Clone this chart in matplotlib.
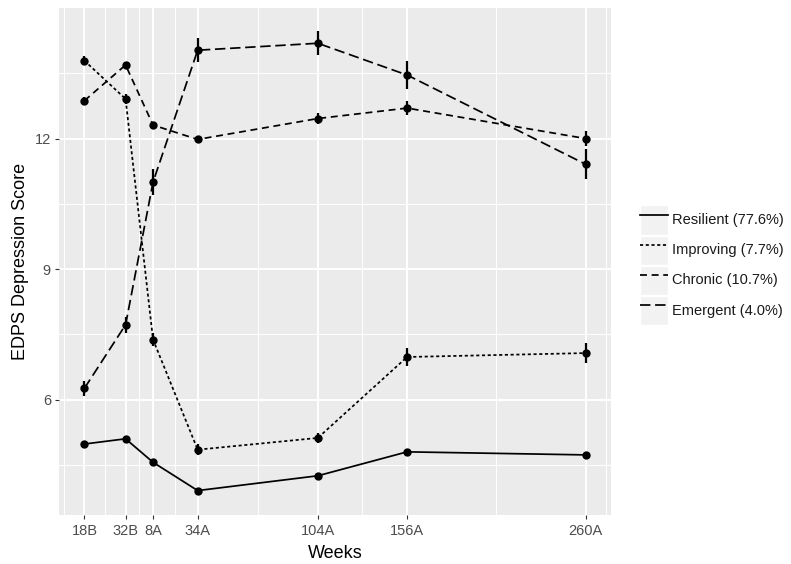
import numpy as np
import matplotlib
matplotlib.use("Agg")
import matplotlib.pyplot as plt
from matplotlib.patches import Patch
from matplotlib.lines import Line2D
from matplotlib.legend_handler import HandlerTuple

plt.rcParams['font.family'] = ['Liberation Sans', 'DejaVu Sans']

# week positions on the x axis and their labels
weeks = [8, 32, 48, 74, 144, 196, 300]
week_labels = ['18B', '32B', '8A', '34A', '104A', '156A', '260A']

# mean EPDS score per class
resilient = [4.98, 5.10, 4.56, 3.91, 4.25, 4.80, 4.73]
improving = [13.79, 12.91, 7.38, 4.85, 5.12, 6.98, 7.07]
chronic = [12.87, 13.69, 12.31, 11.98, 12.46, 12.70, 12.00]
emergent = [6.26, 7.72, 11.00, 14.03, 14.19, 13.46, 11.41]

# standard errors (half length of the error bars)
resilient_se = [0.04, 0.04, 0.04, 0.04, 0.04, 0.05, 0.05]
improving_se = [0.11, 0.12, 0.14, 0.13, 0.12, 0.20, 0.23]
chronic_se = [0.08, 0.08, 0.08, 0.08, 0.12, 0.17, 0.17]
emergent_se = [0.17, 0.18, 0.29, 0.27, 0.28, 0.33, 0.35]

class_labels = ['Resilient (77.6%)', 'Improving (7.7%)', 'Chronic (10.7%)', 'Emergent (4.0%)']
y_breaks = [6, 9, 12]

series = [resilient, improving, chronic, emergent]
series_se = [resilient_se, improving_se, chronic_se, emergent_se]
dash_styles = ['-', (0, (1.8, 1.5)), (0, (4.0, 2.7)), (0, (6.0, 2.7))]

LW = 1.25
fig = plt.figure(figsize=(7.91, 5.64), dpi=100)
ax = fig.add_axes([0.075, 0.0862, 0.697, 0.8996])
ax.set_facecolor('#EBEBEB')

for vals, se, ls in zip(series, series_se, dash_styles):
    ax.errorbar(weeks, vals, yerr=se, fmt='none', ecolor='black',
                elinewidth=1.6, capsize=0, zorder=3)
    ax.plot(weeks, vals, color='black', linestyle=ls, linewidth=LW,
            marker='o', markersize=6, markeredgewidth=0, zorder=4)

# ggplot-like limits: 5% expansion of the data range
lo = min(min(np.array(v) - np.array(s)) for v, s in zip(series, series_se))
hi = max(max(np.array(v) + np.array(s)) for v, s in zip(series, series_se))
pad = 0.05 * (hi - lo)
ax.set_ylim(lo - pad, hi + pad)
xpad = 0.05 * (weeks[-1] - weeks[0])
ax.set_xlim(weeks[0] - xpad, weeks[-1] + xpad)


def minor_breaks(b, lim):
    b = list(b)
    d = b[1] - b[0]
    if lim[0] < b[0]:
        b = [b[0] - d] + b
    if lim[1] > b[-1]:
        b = b + [b[-1] + d]
    mids = [(a + c) / 2 for a, c in zip(b[:-1], b[1:])]
    return [m for m in mids if lim[0] <= m <= lim[1]]


for m in minor_breaks(weeks, ax.get_xlim()):
    ax.axvline(m, color='white', linewidth=0.7, zorder=0)
for m in minor_breaks(y_breaks, ax.get_ylim()):
    ax.axhline(m, color='white', linewidth=0.7, zorder=0)
for w in weeks:
    ax.axvline(w, color='white', linewidth=1.4, zorder=0)
for yb in y_breaks:
    ax.axhline(yb, color='white', linewidth=1.4, zorder=0)

ax.set_xticks(weeks)
ax.set_xticklabels(week_labels)
ax.set_yticks(y_breaks)
ax.tick_params(axis='both', length=3, width=0.8, color='#333333',
               labelcolor='#4D4D4D', labelsize=10.5, pad=3)
for s in ax.spines.values():
    s.set_visible(False)

ax.set_xlabel('Weeks', fontsize=13, labelpad=5)
ax.set_ylabel('EDPS Depression Score', fontsize=13, labelpad=4)

handles = []
for ls in dash_styles:
    handles.append((Patch(facecolor='#F2F2F2', edgecolor='white', linewidth=1.0),
                    Line2D([], [], color='black', linestyle=ls, linewidth=LW)))
leg = fig.legend(handles, class_labels, loc='center left',
                 bbox_to_anchor=(0.809, 0.530), frameon=False,
                 fontsize=10.5, handlelength=1.92, handleheight=2.685,
                 labelspacing=0.07, handletextpad=0.3, borderpad=0,
                 borderaxespad=0,
                 handler_map={tuple: HandlerTuple(ndivide=1, pad=0)})
for t in leg.get_texts():
    t.set_color('#1A1A1A')

fig.savefig('out.png', dpi=100)
